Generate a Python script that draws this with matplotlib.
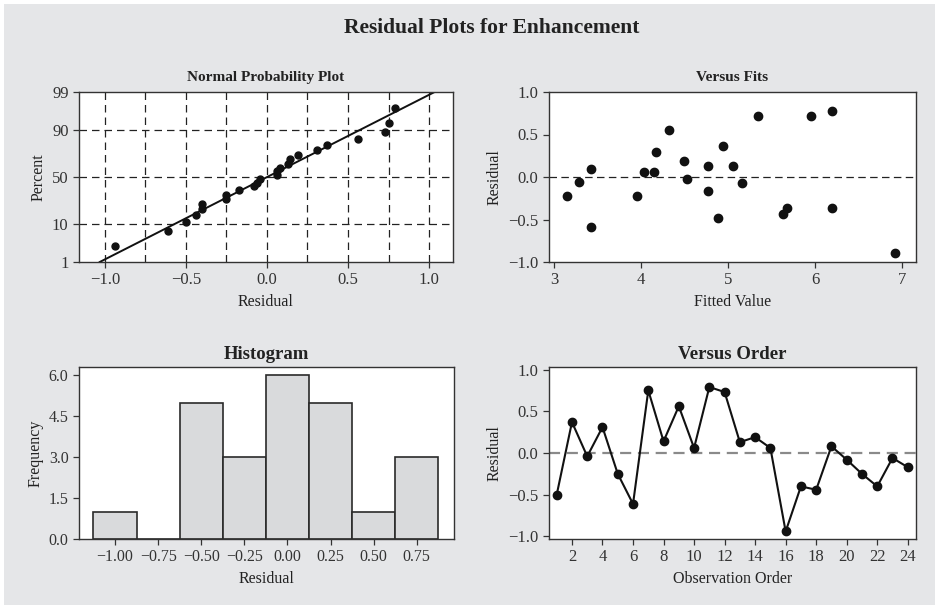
"""
Residual plots for Enhancement (four-in-one layout)
"""
import numpy as np
import matplotlib
matplotlib.use('Agg')
import matplotlib.pyplot as plt
from matplotlib.patches import Rectangle
from statistics import NormalDist

plt.rcParams['font.family'] = ['Liberation Serif', 'DejaVu Serif']
plt.rcParams['axes.edgecolor'] = '#333333'
plt.rcParams['xtick.color'] = '#333333'
plt.rcParams['ytick.color'] = '#333333'
plt.rcParams['text.color'] = '#222222'
plt.rcParams['axes.labelcolor'] = '#222222'

# Residuals in observation order
order = list(range(1, 25))
residuals = [-0.50, 0.37, -0.04, 0.31, -0.25, -0.61, 0.75, 0.14, 0.56, 0.06, 0.79, 0.73,
             0.13, 0.19, 0.06, -0.94, -0.40, -0.44, 0.08, -0.08, -0.25, -0.40, -0.06, -0.17]

# Versus fits panel
fitted = [3.15, 3.28, 3.42, 3.42, 3.95, 4.03, 4.15, 4.17, 4.32, 4.49, 4.53, 4.77,
          4.77, 4.88, 4.94, 5.05, 5.16, 5.34, 5.63, 5.68, 5.95, 6.19, 6.19, 6.91]
fit_resid = [-0.22, -0.06, 0.09, -0.59, -0.22, 0.06, 0.06, 0.30, 0.55, 0.19, -0.02, 0.13,
             -0.16, -0.48, 0.36, 0.13, -0.07, 0.72, -0.43, -0.37, 0.72, 0.78, -0.37, -0.89]

pct_ticks = [1, 10, 50, 90, 99]
pct_grid = [10, 50, 90]
hist_edges = [-1.125, -0.875, -0.625, -0.375, -0.125, 0.125, 0.375, 0.625, 0.875]
hist_ticks = [-1.00, -0.75, -0.50, -0.25, 0.00, 0.25, 0.50, 0.75]

BG = '#e5e6e8'
W, H = 935, 605
fig = plt.figure(figsize=(W / 100, H / 100), dpi=100, facecolor='white')
fig.patches.append(Rectangle((4 / W, 0), 1 - 4 / W, 1 - 4 / H, transform=fig.transFigure,
                             facecolor=BG, edgecolor='none', zorder=-10))

fig.text(0.526, 0.953, 'Residual Plots for Enhancement', ha='center', va='center',
         fontsize=15.5, fontweight='bold')


def axes_px(x0, y0, x1, y1):
    return fig.add_axes([x0 / W, 1 - y1 / H, (x1 - x0) / W, (y1 - y0) / H])


def style(ax, size=12):
    for s in ax.spines.values():
        s.set_linewidth(1.0)
    ax.tick_params(direction='out', length=4, width=0.9, labelsize=size)


nd = NormalDist()

# --- Normal probability plot ---
ax1 = axes_px(79, 92, 453, 262)
style(ax1)
r = np.sort(np.array(residuals))
n = len(r)
ranks = np.arange(1, n + 1)
probs = (ranks - 0.3) / (n + 0.4)
z = np.array([nd.inv_cdf(p) for p in probs])
mu, sd = r.mean(), r.std(ddof=1)
zlo, zhi = nd.inv_cdf(0.01), nd.inv_cdf(0.99)

for gx in np.arange(-1.0, 1.01, 0.25):
    ax1.axvline(gx, color='#222222', lw=0.9, dashes=(6, 4), zorder=1)
for gp in pct_grid:
    ax1.axhline(nd.inv_cdf(gp / 100), color='#222222', lw=0.9, dashes=(6, 4), zorder=1)
ax1.plot([mu + zlo * sd, mu + zhi * sd], [zlo, zhi], color='#111111', lw=1.4, zorder=2)
ax1.plot(r, z, 'o', color='#111111', ms=5, zorder=3)
ax1.set_xlim(-1.16, 1.148)
ax1.set_ylim(zlo, zhi)
ax1.set_xticks([-1.0, -0.5, 0.0, 0.5, 1.0])
ax1.set_xticklabels(['−1.0', '−0.5', '0.0', '0.5', '1.0'])
ax1.set_yticks([nd.inv_cdf(p / 100) for p in pct_ticks])
ax1.set_yticklabels([str(p) for p in pct_ticks])
ax1.set_xlabel('Residual', fontsize=11.5)
ax1.set_ylabel('Percent', fontsize=11.5)
ax1.set_title('Normal Probability Plot', fontsize=11, fontweight='bold', pad=8)

# --- Versus fits ---
ax2 = axes_px(549, 92, 916, 262)
style(ax2)
ax2.axhline(0, color='#222222', lw=0.9, dashes=(6, 3.5), zorder=1)
ax2.plot(fitted, fit_resid, 'o', color='#111111', ms=6, zorder=3)
ax2.set_xlim(2.94, 7.157)
ax2.set_ylim(-1.0, 1.0)
ax2.set_xticks([3, 4, 5, 6, 7])
ax2.set_yticks([-1.0, -0.5, 0.0, 0.5, 1.0])
ax2.set_yticklabels(['−1.0', '−0.5', '0.0', '0.5', '1.0'])
ax2.set_xlabel('Fitted Value', fontsize=11.5)
ax2.set_ylabel('Residual', fontsize=11.5)
ax2.set_title('Versus Fits', fontsize=11, fontweight='bold', pad=8)

# --- Histogram ---
ax3 = axes_px(79, 367, 454, 539)
style(ax3, size=11.5)
ax3.hist(residuals, bins=hist_edges, color='#d9dadc', edgecolor='#2a2a2a', linewidth=1.2)
ax3.set_xlim(-1.209, 0.966)
ax3.set_ylim(0, 6.31)
ax3.set_xticks(hist_ticks)
ax3.set_xticklabels([f'{t:.2f}'.replace('-', '−') for t in hist_ticks])
ax3.set_yticks([0, 1.5, 3.0, 4.5, 6.0])
ax3.set_yticklabels(['0.0', '1.5', '3.0', '4.5', '6.0'])
ax3.set_xlabel('Residual', fontsize=11.5)
ax3.set_ylabel('Frequency', fontsize=11.5)
ax3.set_title('Histogram', fontsize=13.5, fontweight='bold', pad=6)

# --- Versus order ---
ax4 = axes_px(549, 367, 916, 539)
style(ax4)
ax4.axhline(0, color='#8a8a8a', lw=1.6, dashes=(5, 3), zorder=1)
ax4.plot(order, residuals, '-o', color='#111111', lw=1.5, ms=6, zorder=3)
ax4.set_xlim(0.495, 24.54)
ax4.set_ylim(-1.03, 1.03)
ax4.set_xticks(list(range(2, 25, 2)))
ax4.set_yticks([-1.0, -0.5, 0.0, 0.5, 1.0])
ax4.set_yticklabels(['−1.0', '−0.5', '0.0', '0.5', '1.0'])
ax4.set_xlabel('Observation Order', fontsize=11.5)
ax4.set_ylabel('Residual', fontsize=11.5)
ax4.set_title('Versus Order', fontsize=13.5, fontweight='bold', pad=6)

plt.savefig('out.png', dpi=100, facecolor=fig.get_facecolor())
plt.close()
print("Saved: out.png")
